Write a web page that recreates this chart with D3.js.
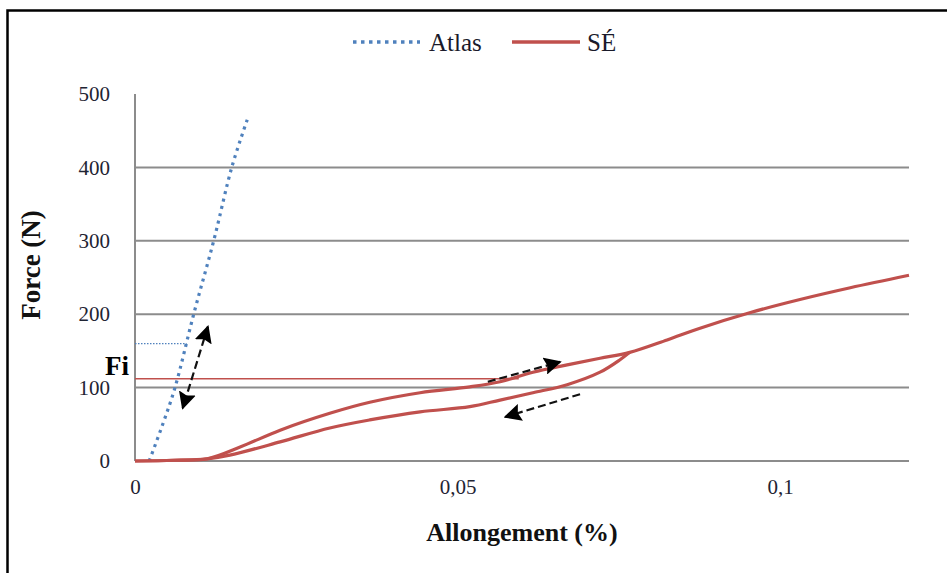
<!DOCTYPE html>
<html>
<head>
<meta charset="utf-8">
<script src="https://cdn.jsdelivr.net/npm/d3@7"></script>
<style>
  html, body { margin: 0; padding: 0; background: #fff; }
  svg { display: block; }
</style>
</head>
<body>
<svg id="chart" width="947" height="573"></svg>
<script>
// ---- data ----
const seriesNames = ["Atlas", "SÉ"];
const xTickValues = [0, 0.05, 0.1];
const xTickLabels = ["0", "0,05", "0,1"];
const yTickValues = [0, 100, 200, 300, 400, 500];

const atlasX = [0.0022, 0.0043, 0.0062, 0.0091, 0.0122, 0.0150, 0.0174];
const atlasY = [0, 50, 100, 200, 300, 400, 465];

// SÉ loading branch
const seLoadX = [0, 0.0060, 0.0112, 0.0163, 0.0225, 0.0302, 0.0364, 0.0442, 0.0519, 0.0566, 0.0617, 0.0670, 0.0721, 0.0767, 0.0825, 0.0876, 0.0953, 0.1031, 0.1109, 0.1200];
const seLoadY = [0, 1, 3, 19, 42, 65, 80, 93, 101, 108, 121, 131, 140, 148, 165, 181, 202, 220, 236, 253];
// SÉ unloading branch
const seUnloadX = [0.0767, 0.0752, 0.0721, 0.0670, 0.0617, 0.0566, 0.0519, 0.0442, 0.0364, 0.0302, 0.0225, 0.0147, 0.0112, 0.0060, 0];
const seUnloadY = [148, 138, 121, 104, 93, 83, 74, 67, 56, 45, 26, 8, 3, 1, 0];

// reference levels
const fiValue = 112;
const fiXEnd = 0.0595;
const atlasRefValue = 160;
const atlasRefXEnd = 0.0080;

// annotation arrows
const arrowX1 = [0.0113, 0.0547, 0.0690];
const arrowY1 = [183, 108, 91];
const arrowX2 = [0.0074, 0.0659, 0.0574];
const arrowY2 = [72, 135, 60];
const arrowDouble = [true, false, false];

// ---- layout ----
const svg = d3.select("#chart");
const W = 947, H = 573;
const mLeft = 135, mRight = 909, mTop = 94, mBottom = 461;
const x = d3.scaleLinear().domain([0, 0.12]).range([mLeft, mRight]);
const y = d3.scaleLinear().domain([0, 500]).range([mBottom, mTop]);

const blue = "#4F81BD", red = "#C0504D", grid = "#8c8c8c";
const serif = "'Liberation Serif', 'Times New Roman', serif";

// outer border
svg.append("path").attr("d", `M7.5,${H} L7.5,10.5 L${W},10.5`)
  .attr("fill", "none").attr("stroke", "#000").attr("stroke-width", 2.5);

// gridlines
svg.append("g").selectAll("line").data(yTickValues.filter(v => v > 0 && v < 500)).join("line")
  .attr("x1", mLeft).attr("x2", mRight).attr("y1", d => y(d)).attr("y2", d => y(d))
  .attr("stroke", grid).attr("stroke-width", 2);

// axis lines
svg.append("line").attr("x1", mLeft).attr("x2", mLeft).attr("y1", mTop).attr("y2", mBottom)
  .attr("stroke", grid).attr("stroke-width", 2);
svg.append("line").attr("x1", mLeft).attr("x2", mRight).attr("y1", mBottom).attr("y2", mBottom)
  .attr("stroke", grid).attr("stroke-width", 2);

// axis labels via d3 axes
const yAxis = d3.axisLeft(y).tickValues(yTickValues).tickSize(0).tickPadding(0).tickFormat(d3.format("d"));
const yg = svg.append("g").attr("transform", `translate(${mLeft - 25},0)`).call(yAxis);
yg.select(".domain").remove();
yg.selectAll("text").attr("font-family", serif).attr("font-size", 21).attr("fill", "#1f2433");

const xAxis = d3.axisBottom(x).tickValues(xTickValues).tickSize(0).tickPadding(0)
  .tickFormat((d, i) => xTickLabels[i]);
const xg = svg.append("g").attr("transform", `translate(0,${mBottom + 18})`).call(xAxis);
xg.select(".domain").remove();
xg.selectAll("text").attr("font-family", serif).attr("font-size", 21).attr("fill", "#1f2433");

// axis titles
svg.append("text").attr("x", 522).attr("y", 541).attr("text-anchor", "middle")
  .attr("font-family", serif).attr("font-weight", "bold").attr("font-size", 26).attr("fill", "#111")
  .text("Allongement (%)");
svg.append("text").attr("transform", "translate(40,265) rotate(-90)").attr("text-anchor", "middle")
  .attr("font-family", serif).attr("font-weight", "bold").attr("font-size", 27).attr("fill", "#111")
  .text("Force (N)");

// reference lines
svg.append("line").attr("x1", x(0)).attr("x2", x(atlasRefXEnd))
  .attr("y1", y(atlasRefValue)).attr("y2", y(atlasRefValue))
  .attr("stroke", blue).attr("stroke-width", 1.3).attr("stroke-dasharray", "1.5,1.5");
svg.append("line").attr("x1", x(0)).attr("x2", x(fiXEnd))
  .attr("y1", y(fiValue)).attr("y2", y(fiValue))
  .attr("stroke", red).attr("stroke-width", 1.6);

svg.append("text").attr("x", 129).attr("y", y(fiValue) - 4).attr("text-anchor", "end")
  .attr("font-family", serif).attr("font-weight", "bold").attr("font-size", 27).attr("fill", "#000")
  .text("Fi");

// series
const line = d3.line().x(d => x(d[0])).y(d => y(d[1])).curve(d3.curveCatmullRom.alpha(0.5));
const atlasPts = atlasX.map((v, i) => [v, atlasY[i]]);
const loadPts = seLoadX.map((v, i) => [v, seLoadY[i]]);
const unloadPts = seUnloadX.map((v, i) => [v, seUnloadY[i]]);

svg.append("path").datum(atlasPts).attr("d", line).attr("fill", "none")
  .attr("stroke", blue).attr("stroke-width", 3.2).attr("stroke-dasharray", "3,4.5");
svg.append("path").datum(loadPts).attr("d", line).attr("fill", "none")
  .attr("stroke", red).attr("stroke-width", 3.2).attr("stroke-linejoin", "round");
svg.append("path").datum(unloadPts).attr("d", line).attr("fill", "none")
  .attr("stroke", red).attr("stroke-width", 3.2).attr("stroke-linejoin", "round");

// arrows
const defs = svg.append("defs");
defs.append("marker").attr("id", "ah").attr("viewBox", "0 0 10 10").attr("refX", 9).attr("refY", 5)
  .attr("markerWidth", 8).attr("markerHeight", 8).attr("markerUnits", "strokeWidth")
  .attr("orient", "auto-start-reverse")
  .append("path").attr("d", "M0,0 L10,5 L0,10 L1.5,5 Z").attr("fill", "#000");

arrowX1.forEach((v, i) => {
  const l = svg.append("line")
    .attr("x1", x(v)).attr("y1", y(arrowY1[i]))
    .attr("x2", x(arrowX2[i])).attr("y2", y(arrowY2[i]))
    .attr("stroke", "#111").attr("stroke-width", 2.2).attr("stroke-dasharray", "8,4")
    .attr("marker-end", "url(#ah)");
  if (arrowDouble[i]) l.attr("marker-start", "url(#ah)");
});

// legend
const lg = svg.append("g");
lg.append("line").attr("x1", 353).attr("x2", 420).attr("y1", 42).attr("y2", 42)
  .attr("stroke", blue).attr("stroke-width", 3.5).attr("stroke-dasharray", "3.5,4.5");
lg.append("text").attr("x", 429).attr("y", 51).attr("font-family", serif).attr("font-size", 25)
  .attr("fill", "#1a1a2a").text(seriesNames[0]);
lg.append("line").attr("x1", 512).attr("x2", 580).attr("y1", 42).attr("y2", 42)
  .attr("stroke", red).attr("stroke-width", 3.5);
lg.append("text").attr("x", 587).attr("y", 51).attr("font-family", serif).attr("font-size", 25)
  .attr("fill", "#1a1a2a").text(seriesNames[1]);
</script>
</body>
</html>
